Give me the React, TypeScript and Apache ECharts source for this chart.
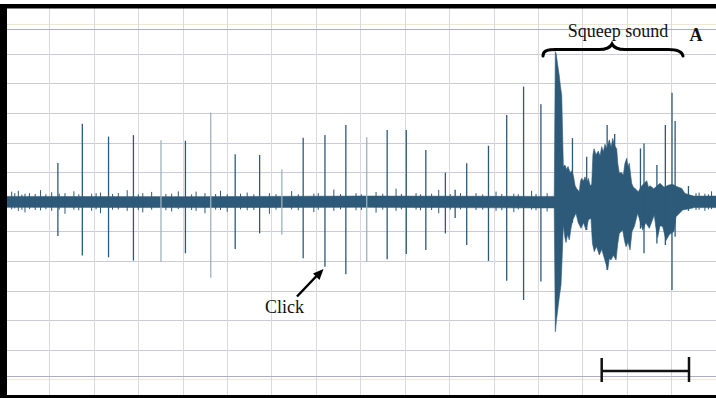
import React, { useEffect, useRef } from "react";
import * as echarts from "echarts";

// Units: x = time in grid divisions, y = amplitude in grid divisions (0 = baseline)

// Isolated clicks (before the squeep)
const clickTimes = [0.19, 0.74, 1.33, 1.89, 2.51, 3.06, 3.63, 4.18, 4.73, 5.23, 5.71, 6.2, 6.67, 7.14, 7.6, 8.03, 8.47, 8.91, 9.13, 9.39, 9.88, 10.29, 10.67, 11.06];
const clickPeaks = [1.32, 2.64, 2.21, 2.26, 2.09, 2.07, 3.02, 1.61, 1.59, 1.1, 2.17, 2.26, 2.6, 2.19, 2.43, 2.43, 1.76, 0.99, 0.41, 1.31, 1.9, 2.94, 3.9, 3.3];
const clickTroughs = [-1.15, -1.81, -1.87, -1.98, -2.03, -1.73, -2.56, -1.59, -1.06, -1.11, -1.9, -2.19, -2.44, -2.02, -1.93, -1.76, -1.62, -1.06, -0.54, -1.45, -1.99, -2.66, -3.31, -2.69];

// Spikes riding on the squeep
const squeepSpikeTimes = [11.77, 12.09, 12.55, 12.72, 13.3, 13.38, 13.67, 13.86, 14.01, 14.08, 14.38];
const squeepSpikePeaks = [2.16, 1.53, 2.6, 2.3, 1.81, 1.98, 1.25, 2.6, 3.69, 2.74, 0.54];
const squeepSpikeTroughs = [-0.7, -0.95, -2.3, -1.6, -0.9, -1.73, -1.4, -1.45, -2.97, -1.17, -0.3];

// Squeep envelope [time, amplitude]
const squeepUpper = [
  [11.36, 0.2], [11.384, 5.08], [11.405, 5.0], [11.44, 4.6], [11.47, 4.3], [11.5, 3.9], [11.528, 3.6],
  [11.545, 2.5], [11.565, 1.2], [11.6, 1.25], [11.64, 1.1], [11.67, 1.2], [11.715, 1.0], [11.75, 1.05],
  [11.789, 0.9], [11.83, 0.55], [11.865, 0.45], [11.924, 0.35], [11.95, 0.7], [11.978, 0.8],
  [12.015, 0.7], [12.052, 0.85], [12.09, 0.65], [12.126, 0.8], [12.17, 0.55], [12.203, 0.6],
  [12.23, 1.6], [12.255, 1.8], [12.3, 1.6], [12.351, 1.72], [12.39, 1.55], [12.428, 1.87],
  [12.465, 1.7], [12.502, 1.95], [12.54, 1.8], [12.599, 2.1], [12.64, 1.85], [12.676, 2.15],
  [12.72, 1.9], [12.765, 1.8], [12.79, 1.3], [12.824, 0.97], [12.87, 1.0], [12.914, 0.9],
  [12.95, 1.3], [12.99, 1.48], [13.02, 1.2], [13.049, 1.31], [13.08, 0.9], [13.103, 0.63],
  [13.14, 0.5], [13.177, 0.46], [13.252, 0.35], [13.33, 0.55], [13.441, 0.72], [13.48, 0.5],
  [13.515, 0.55], [13.6, 0.45], [13.74, 0.63], [13.83, 0.5], [13.926, 0.57], [14.02, 0.6],
  [14.116, 0.52], [14.228, 0.46], [14.302, 0.29], [14.489, 0.2],
];
const squeepLower = [
  [11.36, -0.2], [11.384, -4.38], [11.41, -4.0], [11.438, -3.65], [11.475, -3.2], [11.512, -2.8],
  [11.54, -1.8], [11.564, -0.78], [11.6, -1.2], [11.624, -1.37], [11.66, -1.1], [11.699, -1.28],
  [11.735, -0.9], [11.775, -0.61], [11.849, -0.38], [11.9, -0.7], [11.962, -0.89], [12.02, -0.7],
  [12.075, -0.95], [12.13, -0.6], [12.187, -0.55], [12.22, -1.4], [12.261, -1.68], [12.31, -1.5],
  [12.374, -1.79], [12.43, -1.6], [12.486, -1.9], [12.525, -2.1], [12.563, -2.3], [12.6, -1.9],
  [12.637, -1.96], [12.69, -1.8], [12.75, -1.96], [12.79, -1.4], [12.824, -1.06], [12.9, -0.95],
  [12.94, -1.3], [12.975, -1.51], [13.02, -1.35], [13.065, -1.62], [13.11, -1.0], [13.162, -0.83],
  [13.238, -0.38], [13.3, -0.7], [13.351, -0.95], [13.42, -0.7], [13.499, -0.89], [13.611, -0.44],
  [13.65, -0.9], [13.687, -1.2], [13.74, -0.8], [13.8, -0.83], [13.875, -1.3], [13.949, -1.1],
  [14.053, -1.0], [14.1, -0.5], [14.25, -0.27], [14.48, -0.2],
];

// Background noise band [time, amplitude]
const noiseUpper = [[-1, 0.19], [3, 0.18], [7, 0.2], [11, 0.19], [15, 0.2]];
const noiseLower = [[-1, -0.18], [3, -0.19], [7, -0.18], [11, -0.2], [15, -0.19]];

// Small noise ticks
const noiseTimes = [-0.85, -0.78, -0.7, -0.62, -0.55, -0.45, -0.32, -0.2, -0.08, 0.05, 0.22, 0.35, 0.55, 0.66, 0.95, 1.05, 1.15, 1.42, 1.55, 1.75, 2.0, 2.1, 2.3, 2.62, 2.75, 2.9, 3.2, 3.3, 3.5, 3.74, 3.85, 4.0, 4.3, 4.45, 4.6, 4.95, 5.1, 5.45, 5.6, 5.95, 6.05, 6.4, 6.55, 6.9, 7.02, 7.35, 7.5, 7.8, 7.92, 8.25, 8.35, 8.6, 8.76, 9.02, 9.25, 9.6, 9.75, 10.05, 10.18, 10.45, 10.55, 10.85, 10.95, 11.2, 14.55, 14.62, 14.75, 14.83, 14.9];
const noisePeaks = [0.35, 0.3, 0.38, 0.25, 0.28, 0.3, 0.27, 0.4, 0.26, 0.33, 0.28, 0.3, 0.36, 0.26, 0.28, 0.3, 0.32, 0.27, 0.3, 0.4, 0.26, 0.3, 0.34, 0.27, 0.28, 0.36, 0.26, 0.35, 0.3, 0.27, 0.38, 0.26, 0.28, 0.32, 0.26, 0.3, 0.27, 0.37, 0.26, 0.28, 0.3, 0.42, 0.27, 0.3, 0.26, 0.34, 0.28, 0.45, 0.27, 0.3, 0.26, 0.28, 0.41, 0.27, 0.3, 0.3, 0.26, 0.35, 0.27, 0.28, 0.26, 0.38, 0.27, 0.3, 0.3, 0.32, 0.28, 0.26, 0.36];
const noiseTroughs = [-0.25, -0.22, -0.3, -0.26, -0.35, -0.24, -0.27, -0.28, -0.25, -0.3, -0.26, -0.4, -0.26, -0.28, -0.3, -0.25, -0.38, -0.26, -0.25, -0.3, -0.27, -0.35, -0.26, -0.28, -0.32, -0.24, -0.27, -0.3, -0.38, -0.26, -0.27, -0.33, -0.25, -0.28, -0.27, -0.4, -0.26, -0.25, -0.28, -0.34, -0.26, -0.3, -0.25, -0.28, -0.27, -0.36, -0.26, -0.3, -0.25, -0.26, -0.28, -0.27, -0.38, -0.26, -0.25, -0.27, -0.26, -0.3, -0.28, -0.34, -0.25, -0.26, -0.28, -0.32, -0.27, -0.26, -0.3, -0.25, -0.24];

// Recorder's display limits
const limitLevels = [5.84, -5.88];

const WAVE = "#2d5a79";
const WAVE_FAINT = "#9db2be";
const FAINT_CLICKS = new Set([4, 6, 9, 13]);

const BRACE_D =
  "M543,56 C543,50.5 548,49.5 556,49.5 L599,49.5 C606,49.5 610,48 612,44 C614,48 618,49.5 625,49.5 L668,49.5 C676,49.5 682,50.5 683,56";
echarts.graphic.registerShape("brace", echarts.graphic.extendPath(BRACE_D, {}));

function spikeSeries(times: number[], peaks: number[], troughs: number[], width: number, faint?: Set<number>) {
  return {
    type: "custom",
    silent: true,
    xAxisIndex: 0,
    yAxisIndex: 0,
    clip: false,
    data: times.map((t, i) => [t, peaks[i], troughs[i]]),
    encode: { x: 0, y: [1, 2] },
    renderItem: (params: any, api: any) => {
      const t = api.value(0);
      const a = api.coord([t, api.value(1)]);
      const b = api.coord([t, api.value(2)]);
      const f = faint && faint.has(params.dataIndex);
      return {
        type: "line",
        shape: { x1: a[0], y1: a[1], x2: b[0], y2: b[1] },
        style: { stroke: f ? WAVE_FAINT : WAVE, lineWidth: width },
      };
    },
  };
}

function bandSeries(upper: number[][], lower: number[][], extra?: any) {
  return {
    type: "custom",
    silent: true,
    xAxisIndex: 0,
    yAxisIndex: 0,
    clip: false,
    data: [[upper[0][0], 0]],
    encode: { x: 0, y: 1 },
    renderItem: (_p: any, api: any) => {
      const pts = [
        ...upper.map((p) => api.coord(p)),
        ...lower.slice().reverse().map((p) => api.coord(p)),
      ];
      return { type: "polygon", shape: { points: pts }, style: { fill: WAVE, stroke: WAVE, lineWidth: 0.6 } };
    },
    ...(extra || {}),
  };
}

export default function App() {
  const ref = useRef<HTMLDivElement>(null);
  useEffect(() => {
    if (!ref.current) return;
    const chart = echarts.init(ref.current, undefined, { renderer: "svg" });
    const hColors: string[] = [];
    for (let v = -6; v <= 6; v++) hColors.push(Math.abs(v) === 6 ? "#ebe8d4" : "#cbcbd5");
    const hidden = { axisLine: { show: false }, axisTick: { show: false }, axisLabel: { show: false } };
    chart.setOption({
      animation: false,
      backgroundColor: "#ffffff",
      grid: [
        { left: 5, right: 0, top: 24.4, bottom: 18.4 },
        { left: 5, right: 0, top: 0, bottom: 0 },
      ],
      xAxis: [
        { type: "value", gridIndex: 0, min: -1, max: 15, interval: 1, ...hidden, splitLine: { show: false } },
        {
          type: "value", gridIndex: 1, min: -1, max: 15, interval: 1, ...hidden,
          splitLine: { show: true, lineStyle: { color: "#d8d8de", width: 1 } },
        },
      ],
      yAxis: [
        {
          type: "value", gridIndex: 0, min: -6, max: 6, interval: 1, ...hidden,
          splitLine: { show: true, lineStyle: { color: hColors, width: 1 } },
        },
        { type: "value", gridIndex: 1, min: -1, max: 1, ...hidden, splitLine: { show: false } },
      ],
      series: [
        bandSeries(noiseUpper, noiseLower, {
          markLine: {
            silent: true,
            symbol: "none",
            label: { show: false },
            lineStyle: { color: "#adadc4", type: "solid", width: 1 },
            data: limitLevels.map((v) => ({ yAxis: v })),
          },
        }),
        spikeSeries(noiseTimes, noisePeaks, noiseTroughs, 1),
        spikeSeries(clickTimes, clickPeaks, clickTroughs, 1.3, FAINT_CLICKS),
        bandSeries(squeepUpper, squeepLower),
        spikeSeries(squeepSpikeTimes, squeepSpikePeaks, squeepSpikeTroughs, 1.3),
      ],
      graphic: [
        { type: "rect", z: 100, shape: { x: 0, y: 0, width: 716, height: 4 }, style: { fill: "#ffffff" } },
        { type: "rect", z: 100, shape: { x: 0, y: 4, width: 716, height: 4.5 }, style: { fill: "#000000" } },
        { type: "rect", z: 100, shape: { x: 0, y: 4, width: 7, height: 394 }, style: { fill: "#000000" } },
        { type: "rect", z: 100, shape: { x: 0, y: 395, width: 716, height: 3 }, style: { fill: "#000000" } },
        {
          type: "text", z: 100, x: 618, y: 31,
          style: { text: "Squeep sound", font: "18px 'Liberation Serif'", fill: "#111", align: "center", verticalAlign: "middle" },
        },
        {
          type: "text", z: 100, x: 696, y: 35,
          style: { text: "A", font: "bold 18px 'Liberation Serif'", fill: "#111", align: "center", verticalAlign: "middle" },
        },
        {
          type: "text", z: 100, x: 284.5, y: 306.5,
          style: { text: "Click", font: "18px 'Liberation Serif'", fill: "#111", align: "center", verticalAlign: "middle" },
        },
        { type: "brace", z: 100, x: 0, y: 0, style: { fill: "none", stroke: "#000", lineWidth: 3, lineCap: "round" } },
        { type: "line", z: 100, shape: { x1: 297, y1: 296.5, x2: 317, y2: 275.5 }, style: { stroke: "#000", lineWidth: 2.5 } },
        { type: "polygon", z: 100, shape: { points: [[323.5, 269], [313, 273.5], [319.5, 280]] }, style: { fill: "#000" } },
        { type: "line", z: 100, shape: { x1: 601.7, y1: 371, x2: 689, y2: 371 }, style: { stroke: "#111", lineWidth: 2.5 } },
        { type: "line", z: 100, shape: { x1: 601.7, y1: 358, x2: 601.7, y2: 382 }, style: { stroke: "#111", lineWidth: 2.5 } },
        { type: "line", z: 100, shape: { x1: 689, y1: 357, x2: 689, y2: 382 }, style: { stroke: "#111", lineWidth: 2.5 } },
      ],
    });
    return () => chart.dispose();
  }, []);
  return (
    <div style={{ position: "fixed", left: 0, top: 0, width: 716, height: 398, background: "#fff" }}>
      <div ref={ref} style={{ width: 716, height: 398 }} />
    </div>
  );
}
